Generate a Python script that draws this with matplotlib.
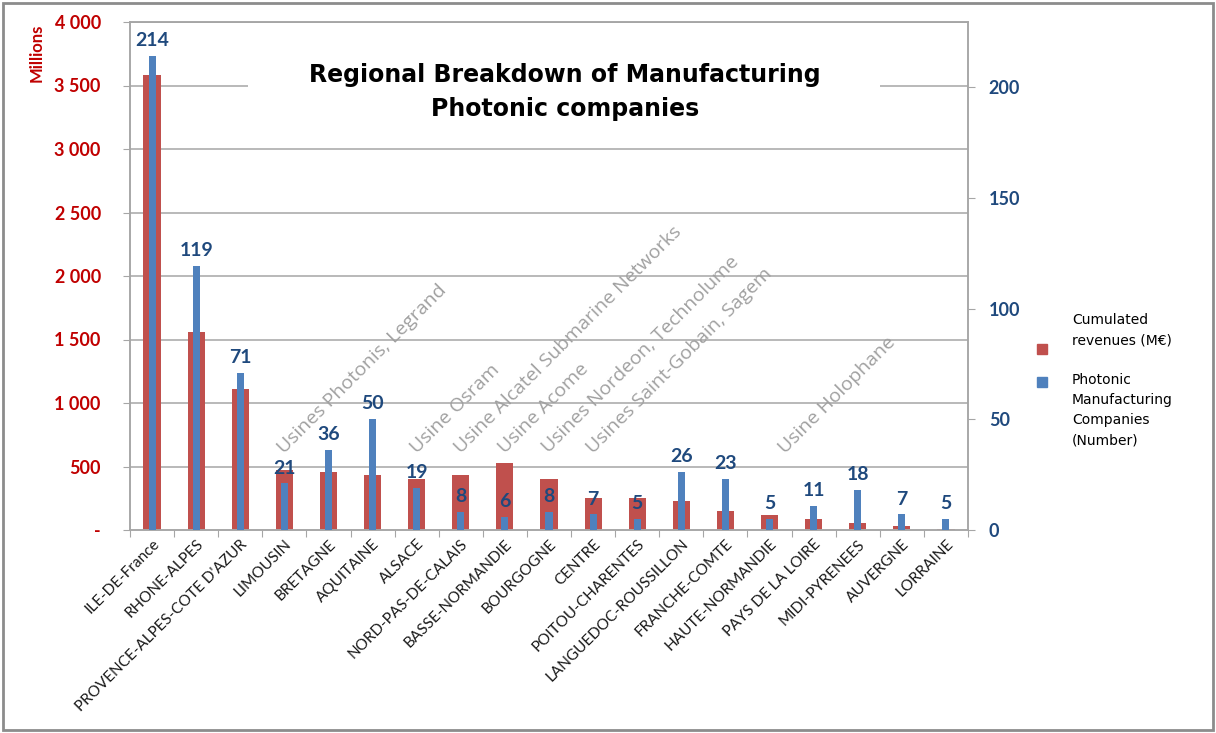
import numpy as np
import matplotlib
matplotlib.use('Agg')
import matplotlib.pyplot as plt
from matplotlib.patches import Rectangle

regions = ['ILE-DE-France', 'RHONE-ALPES', "PROVENCE-ALPES-COTE D'AZUR", 'LIMOUSIN',
           'BRETAGNE', 'AQUITAINE', 'ALSACE', 'NORD-PAS-DE-CALAIS', 'BASSE-NORMANDIE',
           'BOURGOGNE', 'CENTRE', 'POITOU-CHARENTES', 'LANGUEDOC-ROUSSILLON',
           'FRANCHE-COMTE', 'HAUTE-NORMANDIE', 'PAYS DE LA LOIRE', 'MIDI-PYRENEES',
           'AUVERGNE', 'LORRAINE']
# cumulated revenues, millions of euros
revenues = [3580, 1560, 1110, 475, 460, 430, 405, 430, 530, 405,
            255, 250, 230, 150, 120, 90, 55, 30, 10]
# number of photonic manufacturing companies
companies = [214, 119, 71, 21, 36, 50, 19, 8, 6, 8, 7, 5, 26, 23, 5, 11, 18, 7, 5]

# plant notes written over some regions
plant_regions = ['LIMOUSIN', 'ALSACE', 'NORD-PAS-DE-CALAIS', 'BASSE-NORMANDIE',
                 'BOURGOGNE', 'CENTRE', 'HAUTE-NORMANDIE']
plant_notes = ['Usines Photonis, Legrand', 'Usine Osram', 'Usine Alcatel Submarine Networks',
               'Usine Acome', 'Usines Nordeon, Technolume', 'Usines Saint-Gobain, Sagem',
               'Usine Holophane']

left_ticks = [0, 500, 1000, 1500, 2000, 2500, 3000, 3500, 4000]
left_labels = ['-', '500', '1 000', '1 500', '2 000', '2 500', '3 000', '3 500', '4 000']
right_ticks = [0, 50, 100, 150, 200]

RED = '#C0504D'
BLUE = '#4F81BD'
DARKBLUE = '#1F497D'
AXRED = '#C00000'
GRID = '#A6A6A6'

fig = plt.figure(figsize=(12.16, 7.33), dpi=100)
ax = fig.add_axes([130 / 1216, 1 - 530 / 733, 838 / 1216, 508 / 733])
ax2 = ax.twinx()

x = np.arange(len(regions))
ax.bar(x, revenues, width=0.39, color=RED, zorder=2)
ax2.bar(x, companies, width=0.16, color=BLUE, zorder=3)

ax.set_xlim(-0.5, len(regions) - 0.5)
ax.set_ylim(0, 4000)
ax2.set_ylim(0, 200 * 508 / 443)

# gridlines from the revenue axis
for v in left_ticks[1:]:
    ax.axhline(v, color=GRID, lw=1.1, zorder=1)

ax.set_yticks(left_ticks)
ax.set_yticklabels(left_labels)
ax.tick_params(axis='y', length=5, color=GRID, pad=16, labelsize=13, labelcolor=AXRED)
for lab in ax.get_yticklabels():
    lab.set_fontweight('bold')
    lab.set_fontfamily('Lato')

ax2.set_yticks(right_ticks)
ax2.tick_params(axis='y', length=5, color=GRID, pad=10, labelsize=13, labelcolor=DARKBLUE)
for lab in ax2.get_yticklabels():
    lab.set_fontweight('bold')
    lab.set_fontfamily('Lato')

# category ticks sit between the regions
ax.set_xticks(np.arange(len(regions) + 1) - 0.5)
ax.set_xticklabels([])
ax.tick_params(axis='x', length=5, color=GRID)
ax.set_xticks(x, minor=True)
ax.set_xticklabels(regions, minor=True, rotation=45, ha='right', va='top',
                   rotation_mode='anchor', fontsize=11, family='Lato', color='#1a1a1a')
ax.tick_params(axis='x', which='minor', length=0, pad=5)

for a in (ax, ax2):
    for side in ('top', 'left', 'right', 'bottom'):
        a.spines[side].set_color(GRID)
        a.spines[side].set_linewidth(1.1)

ax.text(-0.112, 0.94, 'Millions', transform=ax.transAxes, rotation=90,
        ha='center', va='center', color=AXRED, fontsize=12, fontweight='bold', family='Lato')

# value labels above the company bars
for xi, c in zip(x, companies):
    ax2.annotate(str(c), (xi, c), xytext=(0, 5), textcoords='offset points',
                 ha='center', va='bottom', color=DARKBLUE, fontsize=14,
                 fontweight='bold', family='Lato', zorder=5)

# plant notes
for reg, note in zip(plant_regions, plant_notes):
    xi = regions.index(reg)
    shift = 0.35 if reg == 'HAUTE-NORMANDIE' else 0.0
    ax.text(xi + shift, 600, note, rotation=45, rotation_mode='anchor', ha='left',
            va='baseline', color='#A0A0A0', fontsize=14, family='Open Sans', zorder=4)

# title block on a white panel
ax.add_patch(Rectangle(((248 - 130) / 838, (530 - 128) / 508), 632 / 838, 88 / 508,
                       transform=ax.transAxes, facecolor='white', edgecolor='none',
                       zorder=1.5))
fig.text(565 / 1216, 1 - 92 / 733, 'Regional Breakdown of Manufacturing\nPhotonic companies',
         ha='center', va='center', fontsize=17, fontweight='bold', linespacing=1.55,
         family='DejaVu Sans', color='black')

# legend
fig.patches.append(Rectangle((1037 / 1216, 1 - 354 / 733), 10 / 1216, 10 / 733,
                             transform=fig.transFigure, color=RED))
fig.patches.append(Rectangle((1037 / 1216, 1 - 387 / 733), 10 / 1216, 10 / 733,
                             transform=fig.transFigure, color=BLUE))
fig.text(1072 / 1216, 1 - 313 / 733, 'Cumulated\nrevenues (M€)', ha='left', va='top',
         fontsize=10, linespacing=1.55, color='black')
fig.text(1072 / 1216, 1 - 373 / 733, 'Photonic\nManufacturing\nCompanies\n(Number)',
         ha='left', va='top', fontsize=10, linespacing=1.55, color='black')

# outer frame
fig.patches.append(Rectangle((3 / 1216, 3 / 733), 1210 / 1216, 727 / 733,
                             transform=fig.transFigure, fill=False,
                             edgecolor='#8c8c8c', lw=2))

fig.savefig('out.png', dpi=100)
